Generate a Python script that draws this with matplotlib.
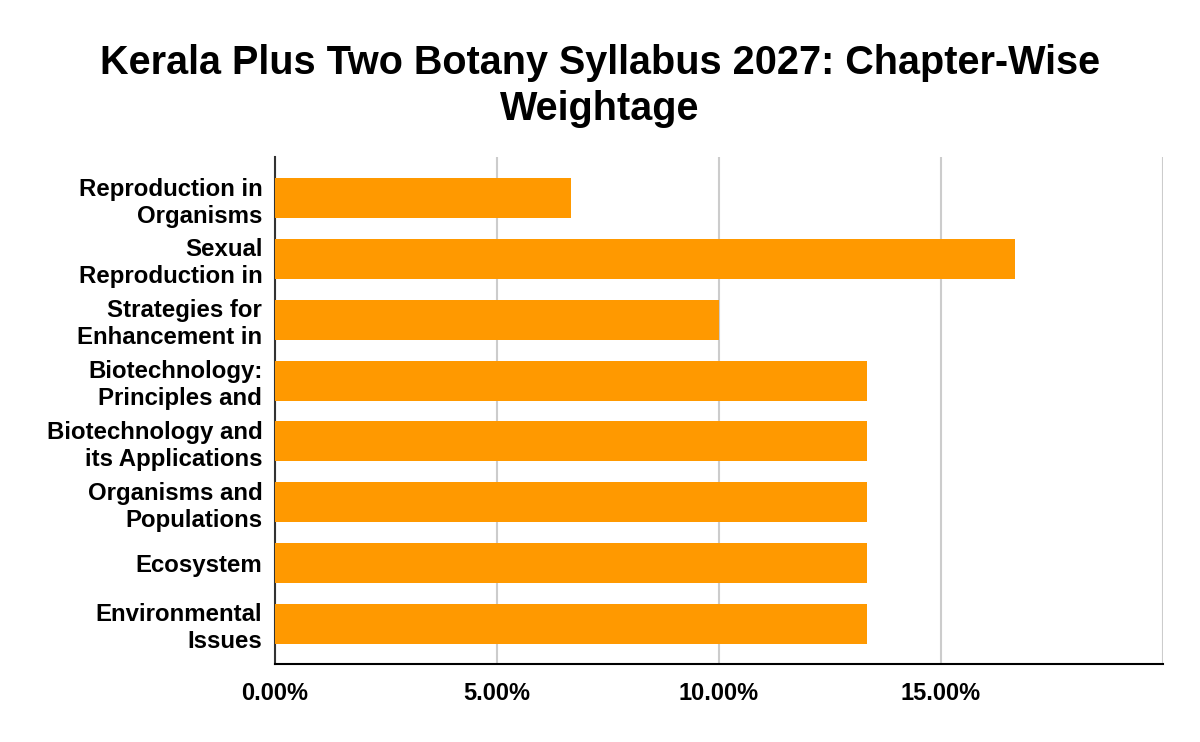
import matplotlib
matplotlib.use("Agg")
import matplotlib.pyplot as plt
from matplotlib.ticker import FuncFormatter

plt.rcParams['font.family'] = ['Liberation Sans', 'DejaVu Sans']

categories = ["Reproduction in\nOrganisms", "Sexual\nReproduction in",
              "Strategies for\nEnhancement in", "Biotechnology:\nPrinciples and",
              "Biotechnology and\nits Applications", "Organisms and\nPopulations",
              "Ecosystem", "Environmental\nIssues"]
values = [6.67, 16.67, 10.0, 13.33, 13.33, 13.33, 13.33, 13.33]
xticks = [0, 5, 10, 15, 20]
title = "Kerala Plus Two Botany Syllabus 2027: Chapter-Wise\nWeightage"

fig = plt.figure(figsize=(12, 7.42), dpi=100)
ax = fig.add_axes([0.229, 0.105, 0.74, 0.683])

ypos = list(range(len(categories)))
ax.barh(ypos, values, height=0.66, color='#FF9900', zorder=3)

ax.set_xlim(0, 20)
ax.set_ylim(len(categories) - 1 + 0.66, -0.67)
ax.set_xticks(xticks)
ax.xaxis.set_major_formatter(FuncFormatter(lambda v, p: f"{v:.2f}%" if v < 20 else ""))
ax.set_yticks(ypos)
ax.set_yticklabels(categories, fontsize=17.3, fontweight='bold', linespacing=1.22)
for lab in ax.get_xticklabels():
    lab.set_fontsize(17)
    lab.set_fontweight('bold')
ax.grid(axis='x', color='#cccccc', linewidth=1.5, zorder=0)
ax.tick_params(axis='both', length=0)
ax.tick_params(axis='x', pad=13)
ax.tick_params(axis='y', pad=9)
for s in ['top', 'right']:
    ax.spines[s].set_visible(False)
ax.spines['left'].set_color('#333333')
ax.spines['left'].set_linewidth(1.5)
ax.spines['bottom'].set_color('#000000')
ax.spines['bottom'].set_linewidth(1.5)

fig.text(0.5, 0.884, title, ha='center', va='center', fontsize=28.5,
         fontweight='bold', linespacing=1.25)

fig.savefig("out.png", dpi=100)
